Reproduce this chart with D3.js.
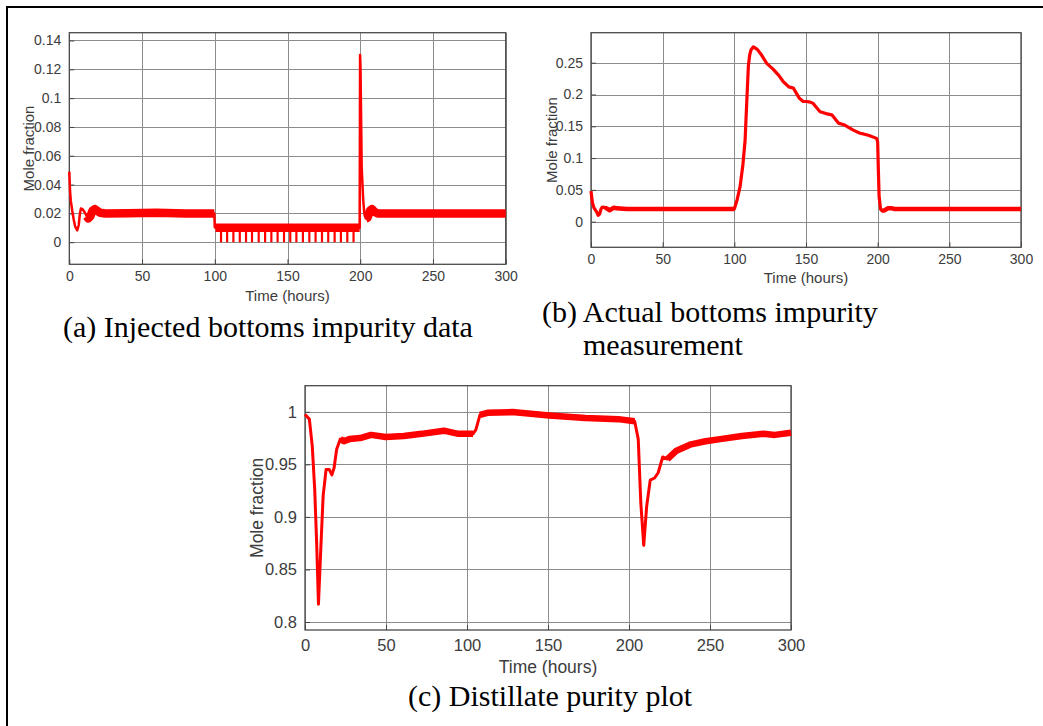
<!DOCTYPE html>
<html>
<head>
<meta charset="utf-8">
<script src="https://cdn.jsdelivr.net/npm/d3@7"></script>
<style>
  body { margin: 0; background: #fff; }
  .grid line { stroke: #8c8c8c; stroke-width: 1; }
  .tick text { fill: #3c3c3c; font-family: 'Liberation Sans', Arial, sans-serif; }
  .axlabel { fill: #3c3c3c; font-family: 'Liberation Sans', Arial, sans-serif; }
  .caption { fill: #000; font-family: 'Liberation Serif', 'Times New Roman', serif; font-size: 30px; }
</style>
</head>
<body>
<script>
// shared x axis (hours)
var hourTicks = [0, 50, 100, 150, 200, 250, 300];

// (a) injected bottoms impurity
var yTicksA = [0, 0.02, 0.04, 0.06, 0.08, 0.1, 0.12, 0.14];
var yLabelsA = ['0', '0.02', '0.04', '0.06', '0.08', '0.1', '0.12', '0.14'];
var seriesA = [
  [0, 0.049], [0.5, 0.036], [1, 0.029], [2, 0.022], [3, 0.016], [4, 0.011], [5.5, 0.0083],
  [6.5, 0.012], [7.3, 0.02], [8, 0.0234], [9, 0.023], [10.5, 0.021], [12, 0.018], [13, 0.0165],
  [14.5, 0.018], [16, 0.022], [17.6, 0.023], [19, 0.022], [21, 0.0205], [25, 0.02], [40, 0.0202],
  [60, 0.0205], [80, 0.02], [99.7, 0.02], [100, 0.0105], [100.5, 0.01], [150, 0.01], [199.6, 0.01],
  [199.9, 0.13], [200.2, 0.12], [201, 0.052], [202, 0.03], [202.8, 0.02], [203.8, 0.0165],
  [205, 0.017], [206.7, 0.022], [208, 0.023], [210, 0.021], [212, 0.02], [250, 0.02], [300, 0.02]
];
// periodic dips to zero between 100 and 200 h
var spikeTimesA = [104.3, 108.5, 112.8, 117.2, 121.5, 125.6, 130.2, 134.6, 138.9, 143.2, 147.6,
  151.9, 156.1, 160.6, 165, 169.3, 173.7, 178, 182.4, 186.7, 191.1, 195.4];
var noisyA = [[12, 99.7], [100.4, 199.6], [203.5, 300]];

// (b) actual bottoms impurity measurement
var yTicksB = [0, 0.05, 0.1, 0.15, 0.2, 0.25];
var yLabelsB = ['0', '0.05', '0.1', '0.15', '0.2', '0.25'];
var seriesB = [
  [0, 0.048], [1, 0.03], [2, 0.022], [4, 0.015], [5, 0.01], [6, 0.012], [7, 0.02], [8, 0.023],
  [10, 0.022], [13, 0.018], [16, 0.022], [18, 0.021], [25, 0.02], [60, 0.02], [100, 0.02],
  [102, 0.035], [104, 0.055], [106, 0.09], [107.5, 0.128], [108.7, 0.19], [109.8, 0.245],
  [110.7, 0.262], [111.6, 0.27], [113.3, 0.275], [116, 0.271], [119, 0.262], [122.6, 0.249],
  [127, 0.24], [131, 0.23], [134.2, 0.22], [138, 0.212], [141.2, 0.21], [145.4, 0.194],
  [148, 0.189], [150.5, 0.189], [153, 0.188], [155, 0.186], [159.8, 0.173], [164, 0.17],
  [168, 0.168], [172.6, 0.155], [177, 0.152], [183, 0.144], [187.7, 0.139], [190, 0.138],
  [193.5, 0.136], [199.3, 0.131], [200, 0.125], [200.5, 0.08], [201, 0.04], [202, 0.02],
  [203, 0.017], [205, 0.018], [207, 0.021], [210, 0.021], [212, 0.02], [300, 0.02]
];
var noisyB = [[10, 100], [203, 300]];

// (c) distillate purity
var yTicksC = [0.8, 0.85, 0.9, 0.95, 1];
var yLabelsC = ['0.8', '0.85', '0.9', '0.95', '1'];
var seriesC = [
  [0, 0.9975], [2.7, 0.993], [4.5, 0.967], [6, 0.926], [7.2, 0.875], [8.3, 0.817], [9.9, 0.875],
  [11.2, 0.92], [13, 0.945], [15, 0.945], [16.6, 0.94], [18, 0.947], [19.5, 0.964], [21.8, 0.974],
  [24, 0.972], [27.4, 0.974], [34, 0.975], [40.8, 0.978], [49.8, 0.976], [61, 0.977], [72, 0.979],
  [85.7, 0.982], [94.7, 0.979], [103.7, 0.979], [105.5, 0.983], [108, 0.997], [112.6, 0.999],
  [128, 0.9997], [150.8, 0.9965], [173, 0.994], [193.4, 0.993], [203.5, 0.991], [205.7, 0.974],
  [207.3, 0.913], [209.1, 0.873], [210.9, 0.91], [213.1, 0.935], [215.8, 0.937], [218, 0.942],
  [220.8, 0.957], [223.7, 0.955], [229.3, 0.963], [238.3, 0.969], [247.3, 0.972], [256.3, 0.974],
  [269.7, 0.977], [283, 0.979], [290, 0.978], [300, 0.98]
];
var noisyC = [[20, 104], [107.5, 203.5], [221, 300]];

var W = 1043, H = 726;
var svg = d3.select('body').append('svg')
  .attr('width', W)
  .attr('height', H);

// page frame (only top and left edges show)
svg.append('path')
  .attr('d', 'M7,726 L7,7 L1043,7')
  .attr('fill', 'none')
  .attr('stroke', '#000')
  .attr('stroke-width', 2);

function drawPanel(p) {
  var x = d3.scaleLinear().domain([0, 300]).range([p.left, p.right]);
  var y = d3.scaleLinear().domain(p.yDomain).range([p.bottom, p.top]);
  var g = svg.append('g');

  // grid
  var grid = g.append('g').attr('class', 'grid');
  grid.selectAll('.vx').data(hourTicks).enter().append('line')
    .attr('x1', function (d) { return Math.round(x(d)) + 0.5; })
    .attr('x2', function (d) { return Math.round(x(d)) + 0.5; })
    .attr('y1', p.top).attr('y2', p.bottom);
  grid.selectAll('.hy').data(p.yTicks).enter().append('line')
    .attr('y1', function (d) { return Math.round(y(d)) + 0.5; })
    .attr('y2', function (d) { return Math.round(y(d)) + 0.5; })
    .attr('x1', p.left).attr('x2', p.right);

  // axes: labels only, ticks pointing in
  var xAxis = d3.axisBottom(x).tickValues(hourTicks).tickSize(-5).tickPadding(p.xPad)
    .tickFormat(function (d) { return String(d); });
  var yAxis = d3.axisLeft(y).tickValues(p.yTicks).tickSize(-5).tickPadding(8)
    .tickFormat(function (d, i) { return p.yLabels[i]; });
  var gx = g.append('g').attr('transform', 'translate(0,' + p.bottom + ')').call(xAxis);
  var gy = g.append('g').attr('transform', 'translate(' + p.left + ',0)').call(yAxis);
  [gx, gy].forEach(function (a) {
    a.select('.domain').remove();
    a.selectAll('.tick line').attr('stroke', '#444');
    a.selectAll('.tick text').style('font-size', p.font + 'px');
  });

  // box
  g.append('rect')
    .attr('x', p.left).attr('y', p.top)
    .attr('width', p.right - p.left).attr('height', p.bottom - p.top)
    .attr('fill', 'none').attr('stroke', '#4a4a4a').attr('stroke-width', 1.3);

  var line = d3.line()
    .x(function (d) { return x(d[0]); })
    .y(function (d) { return y(d[1]); });

  // noisy stretches drawn as a wider band
  p.noisy.forEach(function (r) {
    var seg = p.series.filter(function (d) { return d[0] >= r[0] && d[0] <= r[1]; });
    g.append('path')
      .attr('d', line(seg))
      .attr('fill', 'none')
      .attr('stroke', '#ff0000')
      .attr('stroke-width', p.bandWidth)
      .attr('stroke-linejoin', 'round');
  });

  g.append('path')
    .attr('d', line(p.series))
    .attr('fill', 'none')
    .attr('stroke', '#ff0000')
    .attr('stroke-width', p.lineWidth)
    .attr('stroke-linejoin', 'round');

  if (p.spikes) {
    g.selectAll('.spike').data(p.spikes).enter().append('line')
      .attr('x1', function (d) { return x(d); })
      .attr('x2', function (d) { return x(d); })
      .attr('y1', y(0.011))
      .attr('y2', y(0))
      .attr('stroke', '#ff0000')
      .attr('stroke-width', 2.2);
  }

  // axis titles
  g.append('text').attr('class', 'axlabel')
    .attr('x', (p.left + p.right) / 2).attr('y', p.bottom + p.xLabelOff)
    .attr('text-anchor', 'middle')
    .style('font-size', p.labelFont + 'px')
    .text('Time (hours)');
  g.append('text').attr('class', 'axlabel')
    .attr('transform', 'translate(' + (p.left - p.yLabelOff) + ',' + (p.top + p.bottom) / 2 + ') rotate(-90)')
    .attr('text-anchor', 'middle')
    .style('font-size', p.labelFont + 'px')
    .text('Mole fraction');
}

drawPanel({
  left: 69.3, right: 505.7, top: 32.7, bottom: 264.3,
  yDomain: [-0.0153, 0.1454], yTicks: yTicksA, yLabels: yLabelsA,
  series: seriesA, noisy: noisyA, spikes: spikeTimesA,
  lineWidth: 2.5, bandWidth: 8.5,
  font: 14, labelFont: 15, xPad: 7, xLabelOff: 37, yLabelOff: 35
});

drawPanel({
  left: 591, right: 1021, top: 32.7, bottom: 247.3,
  yDomain: [-0.0403, 0.2972], yTicks: yTicksB, yLabels: yLabelsB,
  series: seriesB, noisy: noisyB,
  lineWidth: 3.2, bandWidth: 4.5,
  font: 14, labelFont: 15, xPad: 7, xLabelOff: 36, yLabelOff: 34
});

drawPanel({
  left: 305, right: 791, top: 385.7, bottom: 630,
  yDomain: [0.7924, 1.0248], yTicks: yTicksC, yLabels: yLabelsC,
  series: seriesC, noisy: noisyC,
  lineWidth: 3, bandWidth: 6.5,
  font: 16.5, labelFont: 17.5, xPad: 9, xLabelOff: 43, yLabelOff: 42
});

// captions
svg.append('text').attr('class', 'caption').attr('x', 63).attr('y', 337)
  .text('(a) Injected bottoms impurity data');
svg.append('text').attr('class', 'caption').attr('x', 542).attr('y', 322)
  .text('(b) Actual bottoms impurity');
svg.append('text').attr('class', 'caption').attr('x', 583).attr('y', 355)
  .text('measurement');
svg.append('text').attr('class', 'caption').attr('x', 408).attr('y', 706)
  .text('(c) Distillate purity plot');
</script>
</body>
</html>
